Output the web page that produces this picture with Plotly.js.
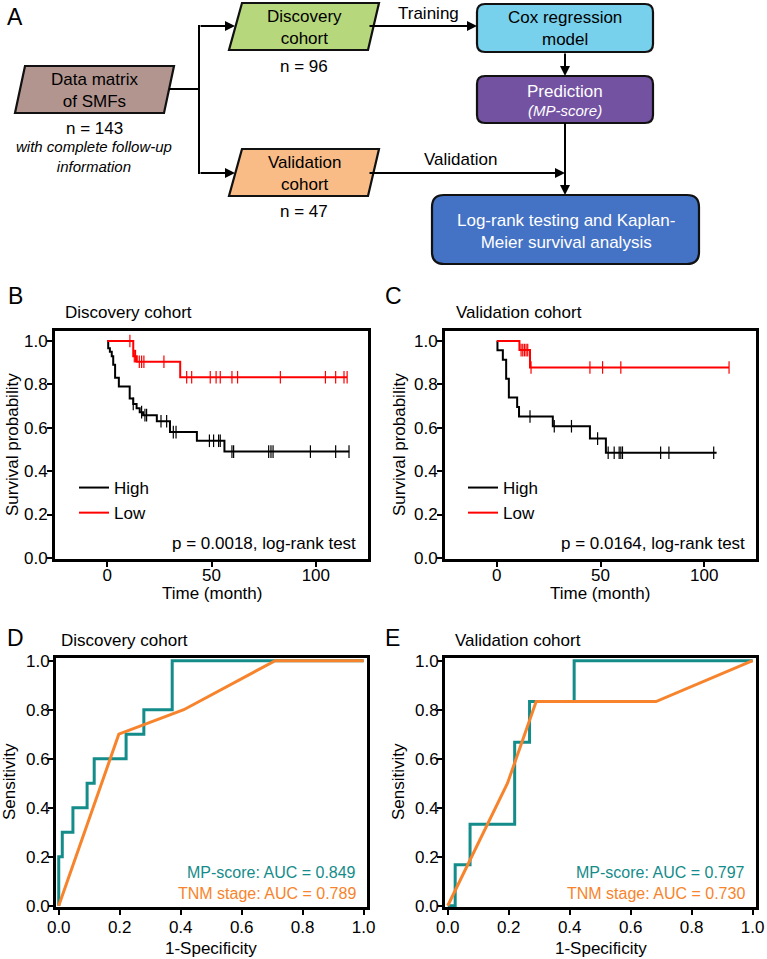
<!DOCTYPE html>
<html>
<head>
<meta charset="utf-8">
<script src="https://cdn.plot.ly/plotly-3.0.1.min.js"></script>
<style>
  body { margin: 0; background: #fff; }
  #chart { width: 767px; height: 959px; }
</style>
</head>
<body>
<div id="chart"></div>
<script>
// Kaplan-Meier, discovery cohort (time in months, survival probability)
const discHighTime = [0, 0.5, 1.3, 2.2, 2.9, 3.8, 5.6, 10.8, 12.5, 14.1, 15.6, 17.2, 23.8, 30.1, 43.0, 56.2, 116];
const discHighSurv = [1.0, 0.967, 0.95, 0.93, 0.89, 0.83, 0.79, 0.735, 0.71, 0.69, 0.672, 0.658, 0.63, 0.58, 0.54, 0.49, 0.49];
const discHighCens = [12.5, 16.5, 18.1, 18.9, 25.8, 28.5, 31.7, 33.0, 49.0, 51.0, 53.4, 54.2, 59.8, 60.6, 77.4, 78.5, 79.5, 97.4, 109.5, 115.9];
const discLowTime = [0, 12.5, 14.2, 35.0, 115];
const discLowSurv = [1.0, 0.93, 0.904, 0.833, 0.833];
const discLowCens = [10.9, 13.0, 13.6, 15.4, 16.5, 17.6, 27.2, 38.1, 40.5, 49.4, 52.2, 54.2, 59.8, 62.5, 83.0, 104.6, 109.5, 113.5, 115];

// Kaplan-Meier, validation cohort
const valHighTime = [0, 0.3, 2.9, 4.5, 5.8, 9.8, 10.7, 27.0, 44.9, 52.6, 106];
const valHighSurv = [1.0, 0.957, 0.913, 0.826, 0.739, 0.696, 0.652, 0.607, 0.55, 0.485, 0.485];
const valHighCens = [16.0, 27.7, 36.0, 48.6, 53.7, 56.6, 59.0, 59.8, 60.6, 79.0, 83.0, 104.6];
const valLowTime = [0, 10.9, 16.0, 112];
const valLowSurv = [1.0, 0.958, 0.878, 0.878];
const valLowCens = [11.7, 12.5, 13.3, 14.1, 14.9, 16.5, 44.9, 51.0, 59.8, 112];

// ROC curves (1-specificity, sensitivity)
const discMpFpr = [0, 0, 0.0116, 0.0465, 0.093, 0.1163, 0.2209, 0.2791, 0.3721, 1.0];
const discMpTpr = [0, 0.2, 0.3, 0.4, 0.5, 0.6, 0.7, 0.8, 1.0, 1.0];
const discTnmFpr = [0, 0.197, 0.41, 0.71, 1.0];
const discTnmTpr = [0, 0.70, 0.80, 1.0, 1.0];
const valMpFpr = [0, 0.0244, 0.0732, 0.2195, 0.2683, 0.4146, 1.0];
const valMpTpr = [0, 0.167, 0.333, 0.667, 0.833, 1.0, 1.0];
const valTnmFpr = [0, 0.196, 0.29, 0.683, 1.0];
const valTnmTpr = [0, 0.5, 0.833, 0.833, 1.0];

const FONT = 'Arial, "Liberation Sans", sans-serif';
const W = 767, H = 959;
const px = x => x / W;
const py = y => 1 - y / H;

const RED = '#ff0000';
const TEAL = '#148c8a';
const ORANGE = '#f7842c';

// survival value at time t (step function)
function survAt(times, surv, t) {
    let s = surv[0];
    for (let i = 0; i < times.length; i++) {
        if (times[i] <= t) s = surv[i];
    }
    return s;
}

function kmTraces(times, surv, cens, color, name, xa, ya, legend) {
    return [
        {
            x: times, y: surv, type: 'scatter', mode: 'lines', name: name,
            line: { shape: 'hv', width: 2, color: color },
            xaxis: xa, yaxis: ya, legend: legend, hoverinfo: 'skip'
        },
        {
            x: cens, y: cens.map(t => survAt(times, surv, t)),
            type: 'scatter', mode: 'markers', showlegend: false,
            marker: { symbol: 'line-ns-open', size: 9, color: color, line: { width: 1.2, color: color } },
            xaxis: xa, yaxis: ya, hoverinfo: 'skip'
        }
    ];
}

const data = [
    ...kmTraces(discHighTime, discHighSurv, discHighCens, '#000', 'High', 'x', 'y', 'legend'),
    ...kmTraces(discLowTime, discLowSurv, discLowCens, RED, 'Low', 'x', 'y', 'legend'),
    ...kmTraces(valHighTime, valHighSurv, valHighCens, '#000', 'High', 'x2', 'y2', 'legend2'),
    ...kmTraces(valLowTime, valLowSurv, valLowCens, RED, 'Low', 'x2', 'y2', 'legend2'),
    { x: discMpFpr, y: discMpTpr, type: 'scatter', mode: 'lines', line: { shape: 'hv', width: 3, color: TEAL }, xaxis: 'x3', yaxis: 'y3', showlegend: false },
    { x: discTnmFpr, y: discTnmTpr, type: 'scatter', mode: 'lines', line: { width: 3, color: ORANGE }, xaxis: 'x3', yaxis: 'y3', showlegend: false },
    { x: valMpFpr, y: valMpTpr, type: 'scatter', mode: 'lines', line: { shape: 'hv', width: 3, color: TEAL }, xaxis: 'x4', yaxis: 'y4', showlegend: false },
    { x: valTnmFpr, y: valTnmTpr, type: 'scatter', mode: 'lines', line: { width: 3, color: ORANGE }, xaxis: 'x4', yaxis: 'y4', showlegend: false }
];

const axisBase = {
    showline: true, mirror: true, linecolor: '#000', linewidth: 3,
    ticks: 'outside', ticklen: 5, tickwidth: 2, tickcolor: '#000',
    showgrid: false, zeroline: false, fixedrange: true,
    tickfont: { size: 17, color: '#000' }
};

const kmY = (top, bottom, anchor) => ({ ...axisBase, domain: [py(bottom), py(top)], range: [-0.005, 1.046], tickvals: [0, 0.2, 0.4, 0.6, 0.8, 1.0], tickformat: '.1f', anchor: anchor, ticklabelstandoff: -4 });
const kmX = (left, right, anchor) => ({ ...axisBase, domain: [px(left), px(right)], range: [-25, 125], tickvals: [0, 50, 100], anchor: anchor, ticklabelstandoff: -6 });
const rocX = (left, right, anchor) => ({ ...axisBase, domain: [px(left), px(right)], range: [-0.009, 1.011], tickvals: [0, 0.2, 0.4, 0.6, 0.8, 1.0], tickformat: '.1f', anchor: anchor, ticklabelstandoff: -2 });
const rocY = (top, bottom, anchor) => ({ ...axisBase, domain: [py(bottom), py(top)], range: [-0.005, 1.011], tickvals: [0, 0.2, 0.4, 0.6, 0.8, 1.0], tickformat: '.1f', anchor: anchor, ticklabelstandoff: -5 });

// ---- flowchart (panel A) ----
function poly(pts) {
    return 'M' + pts.map(p => px(p[0]) + ',' + py(p[1])).join(' L') + ' Z';
}
function roundRect(x0, y0, x1, y1, r) {
    const P = (x, y) => px(x) + ',' + py(y);
    return 'M' + P(x0 + r, y0) + ' L' + P(x1 - r, y0) + ' Q' + P(x1, y0) + ' ' + P(x1, y0 + r) +
        ' L' + P(x1, y1 - r) + ' Q' + P(x1, y1) + ' ' + P(x1 - r, y1) +
        ' L' + P(x0 + r, y1) + ' Q' + P(x0, y1) + ' ' + P(x0, y1 - r) +
        ' L' + P(x0, y0 + r) + ' Q' + P(x0, y0) + ' ' + P(x0 + r, y0) + ' Z';
}
const box = (path, fill) => ({ type: 'path', xref: 'paper', yref: 'paper', path: path, fillcolor: fill, line: { color: '#111', width: 2.2 }, layer: 'above' });
const seg = (x0, y0, x1, y1) => ({ type: 'line', xref: 'paper', yref: 'paper', x0: px(x0), y0: py(y0), x1: px(x1), y1: py(y1), line: { color: '#000', width: 2 } });

const shapes = [
    box(poly([[25, 66], [174, 66], [164, 113], [15, 113]]), '#b3958f'),
    box(poly([[242, 3], [379, 3], [368, 50], [229, 50]]), '#b6d77c'),
    box(poly([[242, 149], [379, 149], [368, 196], [229, 196]]), '#f9bc87'),
    box(roundRect(477, 4, 653, 52, 8), '#78d1ec'),
    box(roundRect(477, 76, 653, 123, 8), '#7352a2'),
    box(roundRect(432, 195, 699, 264, 12), '#4472c4'),
    seg(169, 89, 199, 89),
    seg(199, 25, 199, 174),
    seg(565, 123, 565, 180)
];

function arrow(tx, ty, fx, fy) {
    return { x: px(tx), y: py(ty), xref: 'paper', yref: 'paper', ax: fx - tx, ay: fy - ty,
        axref: 'pixel', ayref: 'pixel', text: '', showarrow: true, arrowhead: 2, arrowsize: 1,
        arrowwidth: 2, arrowcolor: '#000', standoff: 0, startstandoff: 0 };
}
function txt(text, x, y, opt) {
    return Object.assign({ text: text, x: px(x), y: py(y), xref: 'paper', yref: 'paper', showarrow: false,
        xanchor: 'center', yanchor: 'middle', font: { size: 17, color: '#000' } }, opt || {});
}

const annotations = [
    arrow(235, 26, 199, 26),
    arrow(235, 173, 199, 173),
    arrow(477, 26, 368, 26),
    arrow(565, 76, 565, 52),
    arrow(565, 173, 368, 173),
    arrow(565, 195, 565, 173),

    txt('Data matrix<br>of SMFs', 94, 90.5),
    txt('n = 143', 94, 128),
    txt('<i>with complete follow-up<br>information</i>', 94, 156.5, { font: { size: 15, color: '#000' } }),
    txt('Discovery<br>cohort', 304, 27.5),
    txt('n = 96', 304, 66),
    txt('Validation<br>cohort', 304, 173),
    txt('n = 47', 304, 212),
    txt('Training', 428, 14),
    txt('Validation', 460, 159),
    txt('Cox regression<br>model', 565, 28.5),
    txt('Prediction', 565, 91, { font: { size: 17, color: '#fff' } }),
    txt('<i>(MP-score)</i>', 565, 111, { font: { size: 15, color: '#fff' } }),
    txt('Log-rank testing and Kaplan-<br>Meier survival analysis', 565.5, 231, { font: { size: 17, color: '#fff' } }),

    // panel letters
    txt('A', 15, 17, { font: { size: 23, color: '#000' } }),
    txt('B', 15, 296, { font: { size: 23, color: '#000' } }),
    txt('C', 393, 296, { font: { size: 23, color: '#000' } }),
    txt('D', 15, 638, { font: { size: 23, color: '#000' } }),
    txt('E', 392, 638, { font: { size: 23, color: '#000' } }),

    // panel titles
    txt('Discovery cohort', 63, 313, { xanchor: 'left' }),
    txt('Validation cohort', 454, 313, { xanchor: 'left' }),
    txt('Discovery cohort', 59, 640, { xanchor: 'left' }),
    txt('Validation cohort', 453, 640, { xanchor: 'left' }),

    // axis titles
    txt('Time (month)', 212, 593),
    txt('Time (month)', 600, 593),
    txt('Survival probability', 12, 445, { textangle: -90 }),
    txt('Survival probability', 399, 445, { textangle: -90 }),
    txt('1-Specificity', 211, 948),
    txt('1-Specificity', 601, 948),
    txt('Sensitivity', 9, 782, { textangle: -90 }),
    txt('Sensitivity', 398, 782, { textangle: -90 }),

    // statistics
    txt('p = 0.0018, log-rank test', 358, 543, { xanchor: 'right' }),
    txt('p = 0.0164, log-rank test', 747, 543, { xanchor: 'right' }),
    txt('MP-score: AUC = 0.849', 358, 872, { xanchor: 'right', font: { size: 16, color: TEAL } }),
    txt('TNM stage: AUC = 0.789', 358, 893, { xanchor: 'right', font: { size: 16, color: ORANGE } }),
    txt('MP-score: AUC = 0.797', 747, 872, { xanchor: 'right', font: { size: 16, color: TEAL } }),
    txt('TNM stage: AUC = 0.730', 747, 893, { xanchor: 'right', font: { size: 16, color: ORANGE } })
];

const legendBase = { xref: 'paper', yref: 'paper', xanchor: 'left', yanchor: 'top', bgcolor: 'rgba(0,0,0,0)', borderwidth: 0, font: { size: 17, color: '#000' }, itemwidth: 30, tracegroupgap: 0 };

const layout = {
    width: W, height: H,
    margin: { l: 0, r: 0, t: 0, b: 0 },
    paper_bgcolor: '#fff', plot_bgcolor: '#fff',
    font: { family: FONT, color: '#000', size: 17 },
    xaxis: kmX(55, 368, 'y'),
    yaxis: kmY(331, 559, 'x'),
    xaxis2: kmX(445, 756, 'y2'),
    yaxis2: kmY(331, 559, 'x2'),
    xaxis3: rocX(56, 367, 'y3'),
    yaxis3: rocY(658, 907, 'x3'),
    xaxis4: rocX(445, 756, 'y4'),
    yaxis4: rocY(658, 907, 'x4'),
    legend: { ...legendBase, x: px(74), y: py(470) },
    legend2: { ...legendBase, x: px(463), y: py(470) },
    shapes: shapes,
    annotations: annotations
};

Plotly.newPlot('chart', data, layout, { displayModeBar: false, staticPlot: true });
</script>
</body>
</html>
